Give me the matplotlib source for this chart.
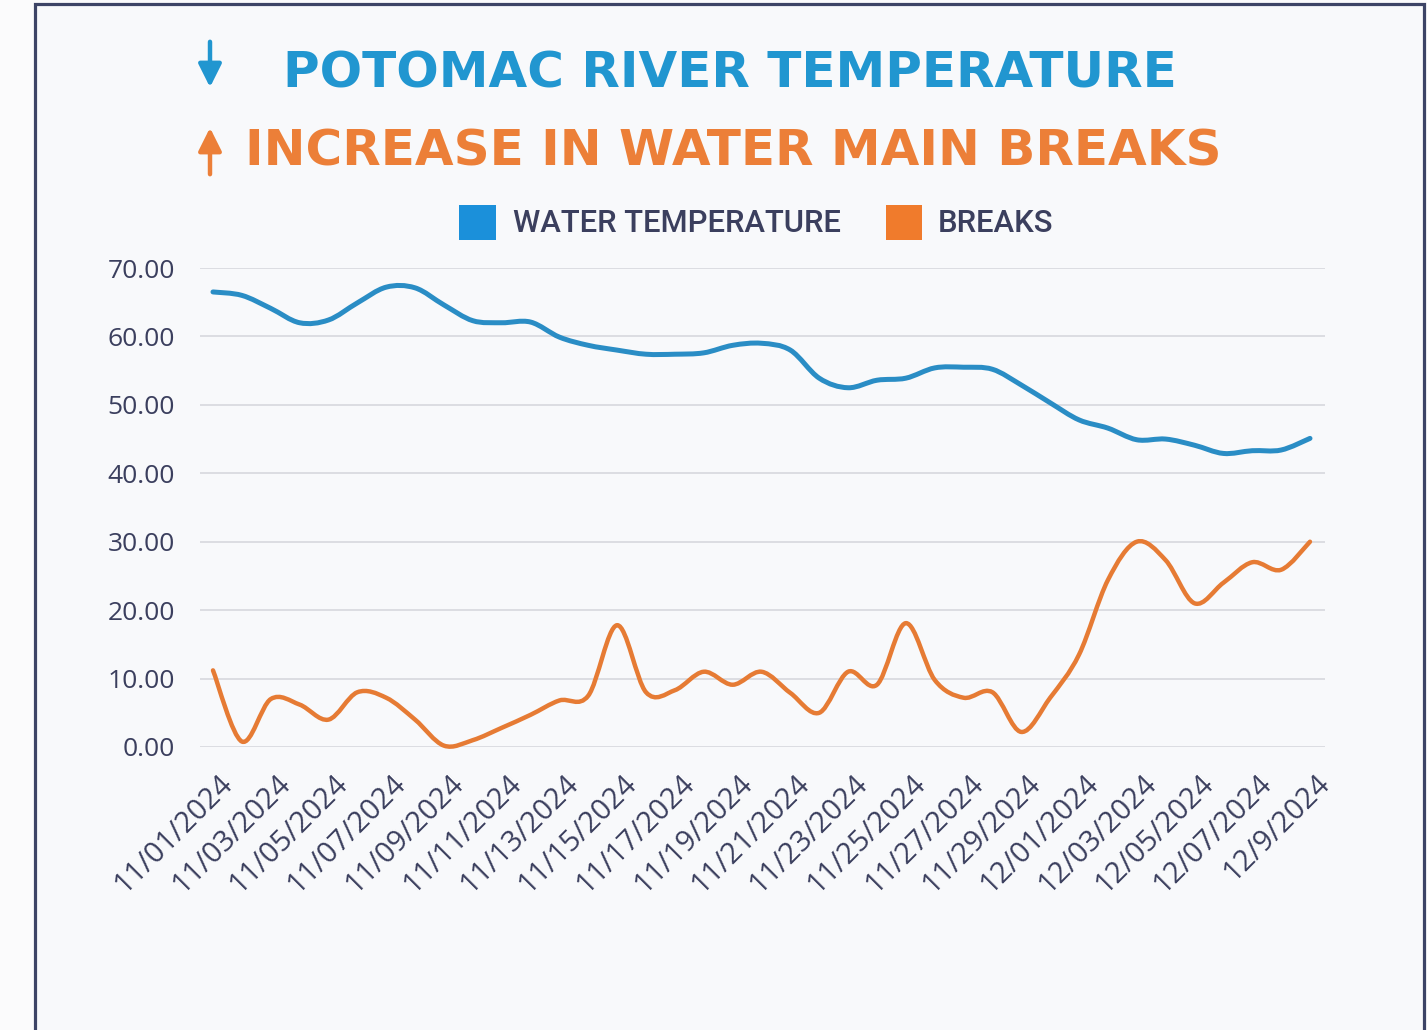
import matplotlib.pyplot as plt
import matplotlib.transforms as mtransforms
from matplotlib.path import Path
from matplotlib.patches import PathPatch, Rectangle, FancyArrowPatch
import numpy as np

# data (one value per day, 11/01 -> 12/09)
water_temp = [66.5, 66.0, 64.1, 62.0, 62.4, 64.9, 67.2, 67.1, 64.6, 62.3,
              62.0, 62.1, 59.9, 58.7, 58.0, 57.4, 57.4, 57.6, 58.7, 59.0,
              58.0, 53.9, 52.5, 53.6, 53.9, 55.4, 55.5, 55.2, 52.9, 50.3,
              47.8, 46.6, 44.9, 45.0, 44.1, 42.9, 43.3, 43.4, 45.1]
breaks = [11.2, 0.8, 7.0, 6.2, 4.0, 8.0, 7.2, 4.0, 0.2, 1.0,
          2.8, 4.7, 6.8, 7.5, 17.8, 8.0, 8.3, 11.0, 9.1, 11.0,
          7.9, 5.0, 11.0, 9.1, 18.1, 9.8, 7.2, 8.0, 2.2, 7.2,
          13.5, 24.4, 30.0, 27.3, 21.0, 24.0, 27.0, 25.9, 30.0]
tick_labels = ['11/01/2024', '11/03/2024', '11/05/2024', '11/07/2024', '11/09/2024',
               '11/11/2024', '11/13/2024', '11/15/2024', '11/17/2024', '11/19/2024',
               '11/21/2024', '11/23/2024', '11/25/2024', '11/27/2024', '11/29/2024',
               '12/01/2024', '12/03/2024', '12/05/2024', '12/07/2024', '12/9/2024']
y_ticks = [0, 10, 20, 30, 40, 50, 60, 70]

BLUE_LINE = '#2a8dc5'
ORANGE_LINE = '#e67b34'
BLUE_TITLE = '#2196d0'
ORANGE_TITLE = '#ec7f38'
NAVY = '#3b3f5e'
FONT = 'Open Sans'

W, H = 1427, 1030


def smooth_path(xs, ys):
    # catmull-rom style bezier, like a "smoothed line" in a spreadsheet chart
    pts = np.column_stack([xs, ys]).astype(float)
    verts = [pts[0]]
    codes = [Path.MOVETO]
    n = len(pts)
    for i in range(n - 1):
        p0 = pts[max(i - 1, 0)]
        p1 = pts[i]
        p2 = pts[i + 1]
        p3 = pts[min(i + 2, n - 1)]
        c1 = p1 + (p2 - p0) / 6.0
        c2 = p2 - (p3 - p1) / 6.0
        verts += [c1, c2, p2]
        codes += [Path.CURVE4] * 3
    return Path(verts, codes)


fig = plt.figure(figsize=(W / 100, H / 100), dpi=100)
fig.patch.set_facecolor('#fbfbfc')

# background / frame layer in pixel coordinates
bg = fig.add_axes([0, 0, 1, 1], zorder=0)
bg.set_xlim(0, W)
bg.set_ylim(H, 0)
bg.axis('off')
bg.add_patch(Rectangle((35, 4), 1389, 1100, facecolor='#f8f9fb',
                       edgecolor='#3d4466', linewidth=2.3))

# chart axes
ax = fig.add_axes([200 / W, 1 - 747 / H, 1125 / W, 479 / H], zorder=1)
ax.patch.set_alpha(0)
x = np.arange(len(water_temp))
ax.add_patch(PathPatch(smooth_path(x, water_temp), fill=False, edgecolor=BLUE_LINE,
                       linewidth=3.6, capstyle='round', joinstyle='round', zorder=3))
ax.add_patch(PathPatch(smooth_path(x, breaks), fill=False, edgecolor=ORANGE_LINE,
                       linewidth=3.2, capstyle='round', joinstyle='round', zorder=3,
                       clip_on=False))
ax.set_xlim(-0.45, 38.52)
ax.set_ylim(0, 70)
ax.set_yticks(y_ticks)
ax.set_yticklabels(['%.2f' % v for v in y_ticks], fontsize=19, color=NAVY, family=FONT)
ax.set_xticks(x[::2])
ax.set_xticklabels([])
ax.tick_params(length=0, pad=0)
ax.tick_params(axis='y', pad=18)

# rotated date labels, top-right corner anchored a bit right/below each tick
lbl_tr = mtransforms.blended_transform_factory(ax.transData, ax.transAxes) + \
    mtransforms.ScaledTranslation(0.05, -0.22, fig.dpi_scale_trans)
for xi, lab in zip(x[::2], tick_labels):
    ax.text(xi, 0, lab, transform=lbl_tr, rotation=45, rotation_mode='anchor',
            ha='right', va='top', fontsize=21, color=NAVY, family=FONT)

ax.grid(axis='y', color='#dcdde2', linewidth=1.4)
ax.set_axisbelow(True)
for s in ax.spines.values():
    s.set_visible(False)

# title lines
bg.text(283, 73, 'POTOMAC RIVER TEMPERATURE', ha='left', va='center',
        fontsize=36, fontweight='bold', color=BLUE_TITLE, family='DejaVu Sans')
bg.text(245, 151, 'INCREASE IN WATER MAIN BREAKS', ha='left', va='center',
        fontsize=36, fontweight='bold', color=ORANGE_TITLE, family='DejaVu Sans')
bg.add_patch(FancyArrowPatch((210, 39), (210, 90), arrowstyle='-|>,head_length=7,head_width=3.5',
                             mutation_scale=2, color=BLUE_TITLE, linewidth=3.2))
bg.add_patch(FancyArrowPatch((210, 177), (210, 125), arrowstyle='-|>,head_length=7,head_width=3.5',
                             mutation_scale=2, color=ORANGE_TITLE, linewidth=3.2))

# legend
bg.add_patch(Rectangle((459, 205), 37, 35, facecolor='#1b90da', edgecolor='none'))
bg.text(513, 223, 'WATER TEMPERATURE', ha='left', va='center', fontsize=22.3,
        color=NAVY, family='Roboto', fontweight='medium')
bg.add_patch(Rectangle((886, 205), 36, 35, facecolor='#f07b2c', edgecolor='none'))
bg.text(938, 223, 'BREAKS', ha='left', va='center', fontsize=22.3,
        color=NAVY, family='Roboto', fontweight='medium')

fig.savefig('out.png', dpi=100, facecolor=fig.get_facecolor())
